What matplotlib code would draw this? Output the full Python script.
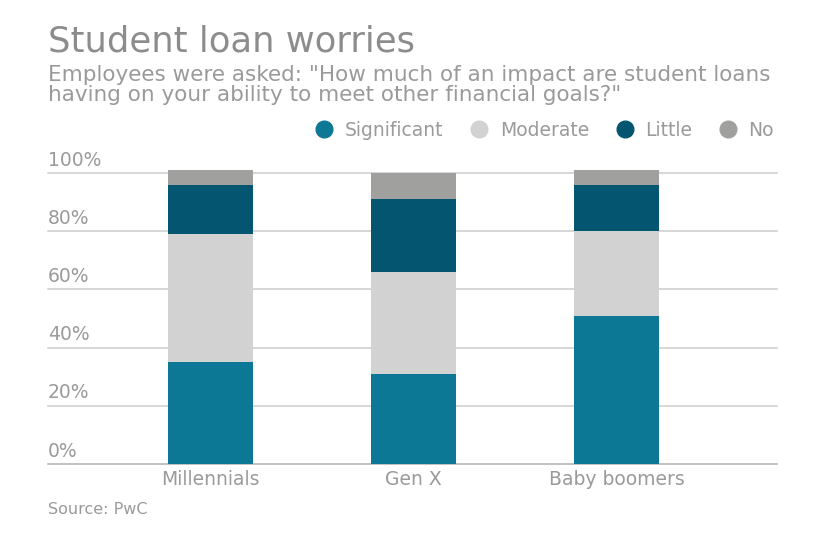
import numpy as np
import matplotlib.pyplot as plt
from matplotlib.lines import Line2D

groups = ['Millennials', 'Gen X', 'Baby boomers']
significant = [35, 31, 51]
moderate = [44, 35, 29]
little = [17, 25, 16]
no = [5, 9, 5]
series_names = ['Significant', 'Moderate', 'Little', 'No']
colors = ['#0c7896', '#d3d2d3', '#045570', '#a0a09f']
yticks = [0, 20, 40, 60, 80, 100]

txt = '#9a9a9a'
plt.rcParams['font.family'] = ['DejaVu Sans']

fig = plt.figure(figsize=(8.4, 5.47), dpi=100)
ax = fig.add_axes([48/840, 1 - 464/547, (777-48)/840, (464-150)/547])

x = np.arange(len(groups))
bottom = np.zeros(len(groups))
for vals, c in zip([significant, moderate, little, no], colors):
    ax.bar(x, vals, width=0.42, bottom=bottom, color=c, zorder=3)
    bottom += np.array(vals)

ax.set_xlim(-0.8, 2.79)
ax.set_ylim(0, 100 * (464-150) / (464-173))
for t in yticks:
    ax.axhline(t, color='#cccccc' if t else '#b0b0b0', lw=1.1, zorder=1, clip_on=False)
    ax.text(0, t + 1.2, f'{t}%', transform=ax.get_yaxis_transform(),
            ha='left', va='bottom', fontsize=13.5, color=txt)
ax.set_yticks([])
ax.set_xticks(x)
ax.set_xticklabels(groups, fontsize=13.5, color=txt)
ax.tick_params(axis='x', length=0, pad=4)
for s in ax.spines.values():
    s.set_visible(False)

fig.text(48/840, 1 - 42/547, 'Student loan worries', fontsize=25.5, color='#8c8c8c',
         va='center', ha='left')
fig.text(48/840, 1 - 85/547,
         'Employees were asked: "How much of an impact are student loans\n'
         'having on your ability to meet other financial goals?"',
         fontsize=15.5, color=txt, va='center', ha='left', linespacing=1.05)
fig.text(48/840, 1 - 509/547, 'Source: PwC', fontsize=11.5, color=txt,
         va='center', ha='left')

handles = [Line2D([], [], marker='o', ls='none', markersize=12, color=c) for c in colors]
leg = fig.legend(handles, series_names, loc='center right',
                 bbox_to_anchor=(774/840, 1 - 130/547), ncol=4, frameon=False,
                 fontsize=13.5, handletextpad=0.5, columnspacing=1.3, handlelength=1.2,
                 borderaxespad=0, borderpad=0)
for t in leg.get_texts():
    t.set_color(txt)

fig.savefig('out.png', dpi=100)
